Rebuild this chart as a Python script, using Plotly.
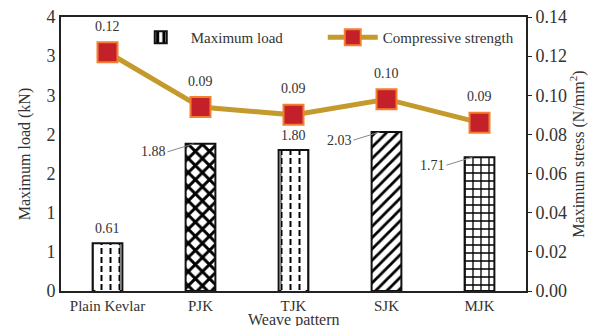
import plotly.graph_objects as go

categories = ["Plain Kevlar", "PJK", "TJK", "SJK", "MJK"]
max_load = [0.61, 1.88, 1.80, 2.03, 1.71]
comp_strength = [0.122, 0.094, 0.090, 0.098, 0.086]
load_label_side = ["top", "left", "top", "left", "left"]

FONT = "Times New Roman, Liberation Serif, serif"
TXT = "#333333"

bar_shapes = ["|", "x", "|", "/", "+"]
bar_sizes = [9, 10, 9, 8, 8]
bar_solid = [0.22, 0.5, 0.22, 0.35, 0.3]
cut_shapes = ["-", "", "-", "", ""]

fig = go.Figure()

fig.add_trace(go.Bar(
    x=categories, y=max_load, name="Maximum load",
    width=0.32,
    marker=dict(color="white", line=dict(color="#111111", width=2),
                pattern=dict(shape=bar_shapes, size=bar_sizes, solidity=bar_solid,
                             fgcolor="#000000", bgcolor="white", fillmode="replace")),
    yaxis="y", showlegend=True,
))
# white horizontal cuts to turn vertical lines into dashes
fig.add_trace(go.Bar(
    x=categories, y=max_load, name="cut", width=0.26,
    marker=dict(color="rgba(0,0,0,0)", line=dict(width=0),
                pattern=dict(shape=cut_shapes, size=9, solidity=0.33,
                             fgcolor="white", bgcolor="rgba(0,0,0,0)", fillmode="replace")),
    yaxis="y", showlegend=False, hoverinfo="skip",
))

fig.add_trace(go.Scatter(
    x=categories, y=comp_strength, name="Compressive strength",
    mode="lines+markers", yaxis="y2",
    line=dict(color="#C49A2C", width=5),
    marker=dict(symbol="square", size=20, color="#C4202A",
                line=dict(color="#F28030", width=2)),
))

annotations = []
for c, v, side in zip(categories, max_load, load_label_side):
    if side == "top":
        annotations.append(dict(x=c, y=v, xref="x", yref="y", text=f"{v:.2f}",
                                showarrow=False, yshift=15,
                                font=dict(family=FONT, size=14, color=TXT)))
    else:
        annotations.append(dict(x=c, y=v, xref="x", yref="y", text=f"{v:.2f}",
                                showarrow=True, arrowhead=0, arrowwidth=1,
                                arrowcolor="#888888", ax=-26, ay=8, xshift=-7,
                                xanchor="right",
                                font=dict(family=FONT, size=14, color=TXT)))
for c, v in zip(categories, comp_strength):
    annotations.append(dict(x=c, y=v, xref="x", yref="y2", text=f"{v:.2f}",
                            showarrow=False, yshift=26,
                            font=dict(family=FONT, size=14, color=TXT)))
# x-axis title placed just below the tick labels (partly cut, as in the original)
annotations.append(dict(x=0.5, y=0, xref="paper", yref="paper", text="Weave pattern",
                        showarrow=False, yanchor="top", yshift=-18,
                        font=dict(family=FONT, size=16, color=TXT)))

fig.update_layout(
    width=589, height=318,
    margin=dict(l=53, r=71, t=9, b=35, autoexpand=False),
    plot_bgcolor="white", paper_bgcolor="white",
    barmode="overlay",
    font=dict(family=FONT, size=15, color=TXT),
    xaxis=dict(showline=True, linecolor="#222222", linewidth=2, mirror=True,
               ticks="", tickfont=dict(size=15), showgrid=False, automargin=False),
    yaxis=dict(range=[0, 3.5], dtick=0.5, tickformat=".0f", showgrid=False,
               showline=True, linecolor="#222222", linewidth=2, ticks="",
               tickfont=dict(size=18), automargin=False, ticklabeloverflow="allow",
               title=dict(text="Maximum load (kN)", standoff=12, font=dict(size=16))),
    yaxis2=dict(range=[0, 0.14], dtick=0.02, tickformat=".2f", overlaying="y",
                side="right", showgrid=False, showline=True, linecolor="#222222",
                linewidth=2, ticks="outside", ticklen=4, tickcolor="#222222",
                tickfont=dict(size=18), automargin=False, ticklabeloverflow="allow",
                title=dict(text="Maximum stress (N/mm<sup>2</sup>)", standoff=6,
                           font=dict(size=16))),
    legend=dict(orientation="h", x=0.15, y=0.985, xanchor="left", yanchor="top",
                bgcolor="rgba(0,0,0,0)", font=dict(size=15, color=TXT),
                entrywidth=127, itemwidth=50, tracegroupgap=0),
    annotations=annotations,
)

fig.write_html("out.html")
